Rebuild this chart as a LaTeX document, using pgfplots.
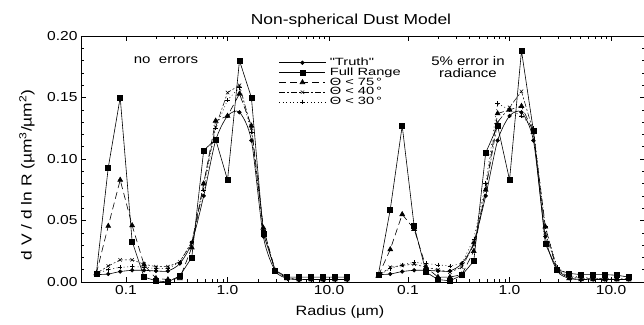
\documentclass[border=0pt]{standalone}
\usepackage{pgfplots}
\usepackage{pgfplotstable}
\pgfplotsset{compat=1.18}
\usepackage{fontspec}
\setmainfont{Liberation Sans}[Ligatures=TeXOff, FakeStretch=1.2]
\newfontfamily\legfont{Liberation Sans}[Ligatures=TeXOff, FakeStretch=1.4]

% Size distributions retrieved without errors (left) and with 5% radiance error (right)
\pgfplotstableread{
r       truth   full    t75    t40    t30
0.0510  0.006   0.007   0.007  0.007  0.007
0.0668  0.0065  0.093   0.0455 0.013  0.010
0.0876  0.0085  0.150   0.083  0.018  0.012
0.1148  0.0095  0.033   0.046  0.018  0.0125
0.1505  0.0095  0.004   0.014  0.0145 0.012
0.1972  0.009   0.001   0.003  0.0125 0.011
0.2585  0.009   0.000   0.002  0.0125 0.011
0.3388  0.015   0.005   0.003  0.0165 0.016
0.4441  0.032   0.020   0.028  0.032  0.033
0.5821  0.070   0.107   0.080  0.080  0.075
0.7630  0.115   0.116   0.131  0.126  0.125
1.0000  0.135   0.083   0.135  0.154  0.148
1.3106  0.138   0.180   0.153  0.160  0.158
1.7180  0.115   0.150   0.127  0.125  0.122
2.2517  0.037   0.039   0.044  0.043  0.042
2.9510  0.009   0.0095  0.009  0.009  0.009
3.8680  0.003   0.004   0.003  0.003  0.003
5.0700  0.002   0.004   0.002  0.002  0.002
6.6450  0.002   0.004   0.002  0.002  0.002
8.7100  0.002   0.004   0.002  0.002  0.002
11.410  0.002   0.004   0.002  0.002  0.002
14.960  0.002   0.004   0.002  0.002  0.002
}\noerr

\pgfplotstableread{
r       truth   full    t75    t40    t30
0.0510  0.006   0.006   0.005  0.005  0.005
0.0668  0.0065  0.059   0.0265 0.012  0.011
0.0876  0.0085  0.127   0.055  0.0135 0.014
0.1148  0.0095  0.0455  0.043  0.0145 0.016
0.1505  0.0095  0.008   0.012  0.012  0.015
0.1972  0.009   0.002   0.004  0.010  0.014
0.2585  0.009   0.001   0.004  0.008  0.013
0.3388  0.015   0.0055  0.006  0.012  0.015
0.4441  0.032   0.017   0.025  0.030  0.035
0.5821  0.070   0.105   0.075  0.075  0.080
0.7630  0.115   0.127   0.137  0.130  0.145
1.0000  0.135   0.083   0.140  0.142  0.140
1.3106  0.138   0.188   0.143  0.155  0.135
1.7180  0.115   0.123   0.122  0.122  0.125
2.2517  0.037   0.031   0.045  0.040  0.045
2.9510  0.009   0.010   0.009  0.010  0.012
3.8680  0.003   0.007   0.003  0.004  0.005
5.0700  0.002   0.006   0.002  0.003  0.004
6.6450  0.002   0.006   0.002  0.003  0.003
8.7100  0.002   0.006   0.002  0.003  0.003
11.410  0.002   0.0055  0.002  0.002  0.003
14.960  0.002   0.004   0.002  0.002  0.003
}\witherr

\tikzset{
  truthst/.style={black, line width=0.6pt, smooth, tension=0.45, mark=*, mark size=1.8pt},
  fullst/.style={black, line width=0.6pt, mark=square*, mark size=2.5pt},
  tsf/.style={black, line width=0.6pt, dash pattern=on 7pt off 4pt, mark=triangle*, mark size=2.8pt, mark options={solid}},
  tfo/.style={black, line width=0.5pt, dash pattern=on 6pt off 2pt on 2pt off 2pt, mark=x, mark size=2.4pt, mark options={solid}},
  tth/.style={black, line width=0.5pt, dash pattern=on 1pt off 2.5pt, mark=+, mark size=2.2pt, mark options={solid}},
}

\begin{document}
\begin{tikzpicture}[x=1pt,y=1pt]
\useasboundingbox (0,0) rectangle (644,-324);

\begin{axis}[at={(81pt,-282pt)}, anchor=south west,
  scale only axis, width=282pt, height=246pt,
  xmode=log, xmin=0.036, xmax=21.6, ymin=0, ymax=0.2,
  axis x line=box, axis y line*=left, axis line style={-, line width=0.6pt},
  tick align=inside, major tick length=5pt, minor tick length=2.8pt,
  every tick/.style={black, line width=0.5pt},
  xtick={0.1,1,10}, xticklabels={0.1,1.0,10.0},
  ytick={0,0.05,0.1,0.15,0.2}, minor y tick num=4,
  /pgf/number format/assume math mode=true,
  tick label style={font=\fontsize{13}{15}\selectfont},
  yticklabel style={/pgf/number format/.cd, fixed, fixed zerofill, precision=2},
  clip=false,
  legend image code/.code={\draw[mark repeat=2,mark phase=2,#1] plot coordinates {(0pt,0pt) (23pt,0pt) (46pt,0pt)};},
  legend cell align=left,
  legend style={at={(axis description cs:0.702,0.912)}, anchor=north west,
    draw=none, fill=none, inner sep=0pt, row sep=0pt,
    font=\legfont\fontsize{10.5}{9.8}\selectfont,
    nodes={inner sep=0pt, text height=7.6pt, text depth=2.2pt},
    /tikz/every odd column/.append style={column sep=4pt}},
]
\addplot[truthst] table[x=r, y=truth] {\noerr};
\addplot[fullst]  table[x=r, y=full]  {\noerr};
\addplot[tsf]     table[x=r, y=t75]   {\noerr};
\addplot[tfo]     table[x=r, y=t40]   {\noerr};
\addplot[tth]     table[x=r, y=t30]   {\noerr};
\legend{"Truth", Full Range, Θ < 75\,°, Θ < 40\,°, Θ < 30\,°}
\end{axis}

\begin{axis}[at={(363pt,-282pt)}, anchor=south west,
  scale only axis, width=282pt, height=246pt,
  xmode=log, xmin=0.036, xmax=21.6, ymin=0, ymax=0.2,
  axis x line=box, axis y line*=right, axis line style={-, line width=0.6pt},
  tick align=inside, major tick length=5pt, minor tick length=2.8pt,
  every tick/.style={black, line width=0.5pt},
  xtick={0.1,1,10}, xticklabels={0.1,1.0,10.0},
  ytick={0,0.05,0.1,0.15,0.2}, minor y tick num=4, yticklabels={},
  /pgf/number format/assume math mode=true,
  tick label style={font=\fontsize{13}{15}\selectfont},
  clip=false,
]
\addplot[truthst] table[x=r, y=truth] {\witherr};
\addplot[tth]     table[x=r, y=t30]   {\witherr};
\addplot[tfo]     table[x=r, y=t40]   {\witherr};
\addplot[tsf]     table[x=r, y=t75]   {\witherr};
\addplot[fullst]  table[x=r, y=full]  {\witherr};
\end{axis}

\node[font=\fontsize{14.5}{16}\selectfont] at (351,-21) {Non-spherical Dust Model};
\node[font=\fontsize{13.5}{16}\selectfont] at (340,-312) {Radius (µm)};
\node[font=\fontsize{14.5}{16}\selectfont, rotate=90] at (27,-175)
  {d V / d ln R (µm\textsuperscript{3}/µm\textsuperscript{2})};
\node[font=\fontsize{12.5}{14}\selectfont] at (166,-60) {no\ \ errors};
\node[font=\fontsize{12.5}{12}\selectfont, align=center] at (468,-67) {5\% error in\\radiance};
\end{tikzpicture}
\end{document}
